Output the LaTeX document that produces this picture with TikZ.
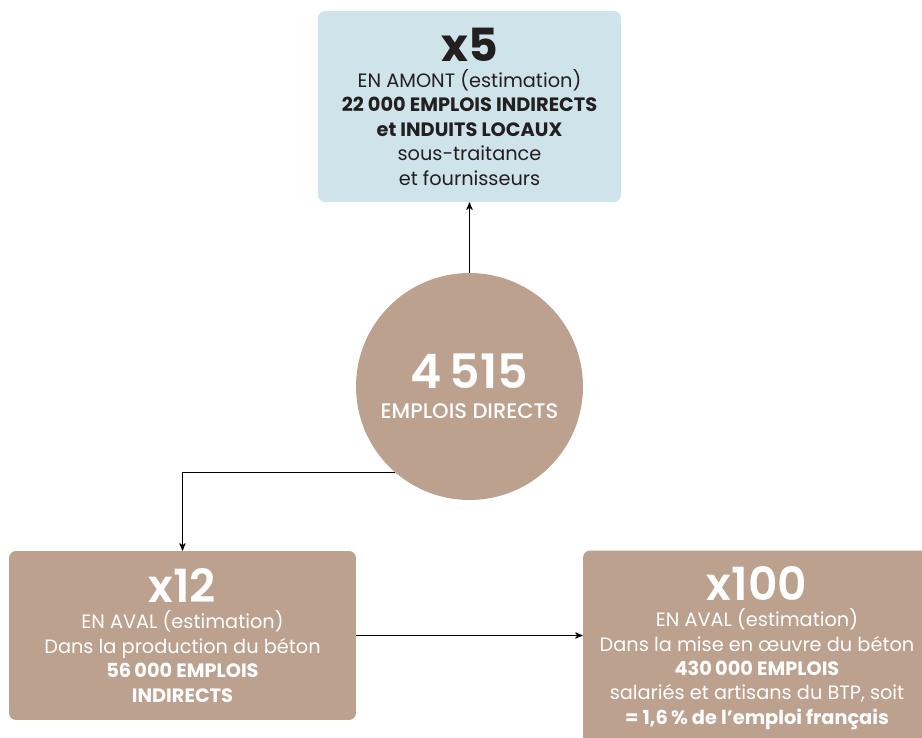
\documentclass[tikz,border=0pt]{standalone}
\usepackage{fontspec}
\setmainfont{Poppins}
\newfontfamily\moyen{Poppins Medium}
\newfontfamily\demi{Poppins SemiBold}
\usetikzlibrary{arrows}
\definecolor{sable}{HTML}{BCA18F}
\definecolor{ciel}{HTML}{CEE3EA}
\definecolor{encre}{HTML}{231F20}

\tikzset{
  bloc/.style={rounded corners=0.14cm, inner sep=0pt, align=center,
    font=\fontsize{11}{13.9}\selectfont},
  fleche/.style={black, ->, >=stealth', line width=0.6pt},
}
\newcommand{\gros}[1]{{\fontsize{26}{26}\selectfont\bfseries #1}}
\newcommand{\grosdemi}[1]{{\fontsize{26}{26}\selectfont\demi #1}}

\begin{document}
\begin{tikzpicture}[x=0.02cm, y=-0.02cm]
\useasboundingbox (0,0) rectangle (922,737);
% amont
\node[bloc, fill=ciel, text=encre, minimum width=6.06cm, minimum height=3.82cm]
  (amont) at (469.5,106.5)
  {\gros{x5}\\[1pt]
   EN AMONT (estimation)\\
   \textbf{22 000 EMPLOIS INDIRECTS}\\
   \textbf{et INDUITS LOCAUX}\\
   sous-traitance\\
   et fournisseurs};
% emplois directs
\node[circle, fill=sable, text=white, inner sep=0pt, minimum size=4.54cm, align=center]
  (directs) at (469.5,386.5)
  {{\fontsize{27}{27}\selectfont\demi 4\,515}\\[5pt]
   {\fontsize{12}{14}\selectfont\moyen EMPLOIS DIRECTS}};
% aval production
\node[bloc, fill=sable, text=white, minimum width=6.94cm, minimum height=3.38cm]
  (production) at (182.5,635.5)
  {\grosdemi{x12}\\[1pt]
   EN AVAL (estimation)\\
   Dans la production du béton\\
   \textbf{56\,000 EMPLOIS}\\
   \textbf{INDIRECTS}};
% aval mise en oeuvre
\node[bloc, fill=sable, text=white, minimum width=6.96cm, minimum height=3.9cm]
  (oeuvre) at (757,648)
  {\grosdemi{x100}\\[1pt]
   EN AVAL (estimation)\\
   Dans la mise en œuvre du béton\\
   \textbf{430\,000 EMPLOIS}\\
   salariés et artisans du BTP, soit\\
   \textbf{= 1,6\,\% de l’emploi français}};

\draw[fleche] (directs.north) -- (amont.south);
\draw[fleche] (directs.229) -| (production.north);
\draw[fleche] (production.east) -- (production.east -| oeuvre.west);
\end{tikzpicture}
\end{document}
